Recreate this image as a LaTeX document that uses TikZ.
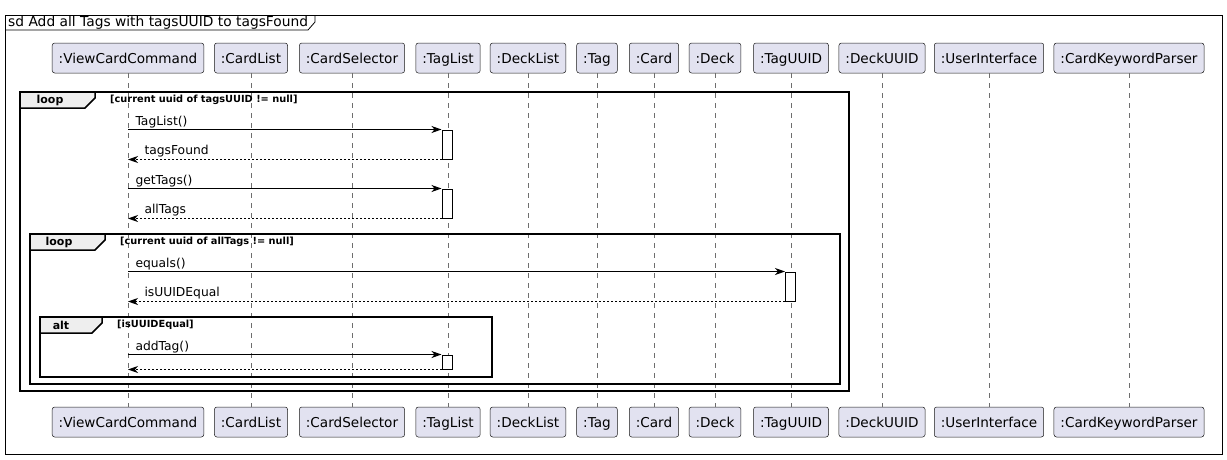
\documentclass[tikz,border=0pt]{standalone}
\usepackage{fontspec}
\setmainfont{DejaVu Sans}
\usetikzlibrary{arrows.meta}
\definecolor{PartFill}{RGB}{226,226,240}
\definecolor{PartLine}{RGB}{24,24,24}
\definecolor{TabFill}{RGB}{238,238,238}
\definecolor{LifeGray}{RGB}{110,110,110}
\tikzset{
  >=Stealth,
  actor/.style={draw=PartLine,line width=.5pt,rounded corners=2.5pt,fill=PartFill,font=\fontsize{13.6}{16}\selectfont,minimum height=30pt,text height=11.5pt,text depth=1.5pt,inner xsep=6.5pt,inner ysep=0pt},
  lifeline/.style={draw=LifeGray,line width=.6pt,dash pattern=on 5pt off 5pt},
  act/.style={draw=black,line width=1pt,fill=white,minimum width=10pt,inner sep=0pt},
  call/.style={-{Stealth[length=10pt,width=7pt,inset=3pt]},line width=1pt},
  ret/.style={-{Stealth[length=10pt,width=7pt,inset=3pt]},line width=1pt,dash pattern=on 2pt off 2pt},
  msg/.style={font=\fontsize{12.3}{14}\selectfont,anchor=base west,inner sep=0pt},
  frame/.style={draw=black,line width=1.5pt},
  tab/.style={draw=black,line width=1.5pt,fill=TabFill},
  tabtext/.style={font=\bfseries\fontsize{11}{13}\selectfont,inner sep=0pt},
  guard/.style={font=\bfseries\fontsize{9.8}{12}\selectfont,anchor=west,inner sep=0pt}
}

\begin{document}
\begin{tikzpicture}[x=1pt,y=-1pt]
  \useasboundingbox (0,0) rectangle (1227,459);
  % diagram frame and title
  \draw[line width=.8pt] (5,15) rectangle (1222,454);
  \draw[line width=.8pt] (5,30) -- (308,30) -- (315,22) -- (315,15);
  \node[font=\fontsize{13.8}{16}\selectfont,anchor=west,inner sep=0pt] (title) at (8,22.5) {sd Add all Tags with tagsUUID to tagsFound};

  % participants, top row
  \node[actor] (vcc) at (128,58) {:ViewCardCommand};
  \node[actor] (cardlist) at (251,58) {:CardList};
  \node[actor] (cardsel) at (352,58) {:CardSelector};
  \node[actor] (taglist) at (448,58) {:TagList};
  \node[actor] (decklist) at (528,58) {:DeckList};
  \node[actor] (tag) at (597,58) {:Tag};
  \node[actor] (card) at (654,58) {:Card};
  \node[actor] (deck) at (715,58) {:Deck};
  \node[actor] (taguuid) at (791,58) {:TagUUID};
  \node[actor] (deckuuid) at (882,58) {:DeckUUID};
  \node[actor] (ui) at (989,58) {:UserInterface};
  \node[actor] (ckp) at (1129,58) {:CardKeywordParser};

  % participants, bottom row
  \node[actor] (vccB) at (128,422) {:ViewCardCommand};
  \node[actor] (cardlistB) at (251,422) {:CardList};
  \node[actor] (cardselB) at (352,422) {:CardSelector};
  \node[actor] (taglistB) at (448,422) {:TagList};
  \node[actor] (decklistB) at (528,422) {:DeckList};
  \node[actor] (tagB) at (597,422) {:Tag};
  \node[actor] (cardB) at (654,422) {:Card};
  \node[actor] (deckB) at (715,422) {:Deck};
  \node[actor] (taguuidB) at (791,422) {:TagUUID};
  \node[actor] (deckuuidB) at (882,422) {:DeckUUID};
  \node[actor] (uiB) at (989,422) {:UserInterface};
  \node[actor] (ckpB) at (1129,422) {:CardKeywordParser};

  % lifelines
  \draw[lifeline] (vcc) -- (vccB);
  \draw[lifeline] (cardlist) -- (cardlistB);
  \draw[lifeline] (cardsel) -- (cardselB);
  \draw[lifeline] (taglist) -- (taglistB);
  \draw[lifeline] (decklist) -- (decklistB);
  \draw[lifeline] (tag) -- (tagB);
  \draw[lifeline] (card) -- (cardB);
  \draw[lifeline] (deck) -- (deckB);
  \draw[lifeline] (taguuid) -- (taguuidB);
  \draw[lifeline] (deckuuid) -- (deckuuidB);
  \draw[lifeline] (ui) -- (uiB);
  \draw[lifeline] (ckp) -- (ckpB);

  % outer loop
  \draw[frame] (20,92) rectangle (849,391);
  \draw[tab] (20,92) -- (95,92) -- (95,98) -- (85,108) -- (20,108) -- cycle;
  \node[tabtext] (loopA) at (50,100) {loop};
  \node[guard] (guardA) at (110,100) {[current uuid of tagsUUID != null]};

  % inner loop
  \draw[frame] (30,234) rectangle (840,384);
  \draw[tab] (30,234) -- (105,234) -- (105,240) -- (95,250) -- (30,250) -- cycle;
  \node[tabtext] (loopB) at (59,242) {loop};
  \node[guard] (guardB) at (120,242) {[current uuid of allTags != null]};

  % alt
  \draw[frame] (40,317) rectangle (492,377);
  \draw[tab] (40,317) -- (102,317) -- (102,323) -- (92,333) -- (40,333) -- cycle;
  \node[tabtext] (altC) at (61,325) {alt};
  \node[guard] (guardC) at (117,325) {[isUUIDEqual]};

  % activations
  \node[act,minimum height=29pt] (a1) at (447,144.5) {};
  \node[act,minimum height=29pt] (a2) at (447,203.5) {};
  \node[act,minimum height=29pt] (a3) at (790.5,286.5) {};
  \node[act,minimum height=14pt] (a4) at (447,362) {};

  % messages
  \draw[call] (vcc |- a1.north west) -- (a1.north west) node[msg,pos=0,xshift=7pt,yshift=4pt] (m1) {TagList()};
  \draw[ret] (a1.south west) -- (vcc |- a1.south west) node[msg,pos=1,xshift=16pt,yshift=5pt] (m2) {tagsFound};
  \draw[call] (vcc |- a2.north west) -- (a2.north west) node[msg,pos=0,xshift=7pt,yshift=4pt] (m3) {getTags()};
  \draw[ret] (a2.south west) -- (vcc |- a2.south west) node[msg,pos=1,xshift=16pt,yshift=5pt] (m4) {allTags};
  \draw[call] (vcc |- a3.north west) -- (a3.north west) node[msg,pos=0,xshift=7pt,yshift=4pt] (m5) {equals()};
  \draw[ret] (a3.south west) -- (vcc |- a3.south west) node[msg,pos=1,xshift=16pt,yshift=5pt] (m6) {isUUIDEqual};
  \draw[call] (vcc |- a4.north west) -- (a4.north west) node[msg,pos=0,xshift=7pt,yshift=4pt] (m7) {addTag()};
  \draw[ret] (a4.south west) -- (vcc |- a4.south west);
\end{tikzpicture}
\end{document}
